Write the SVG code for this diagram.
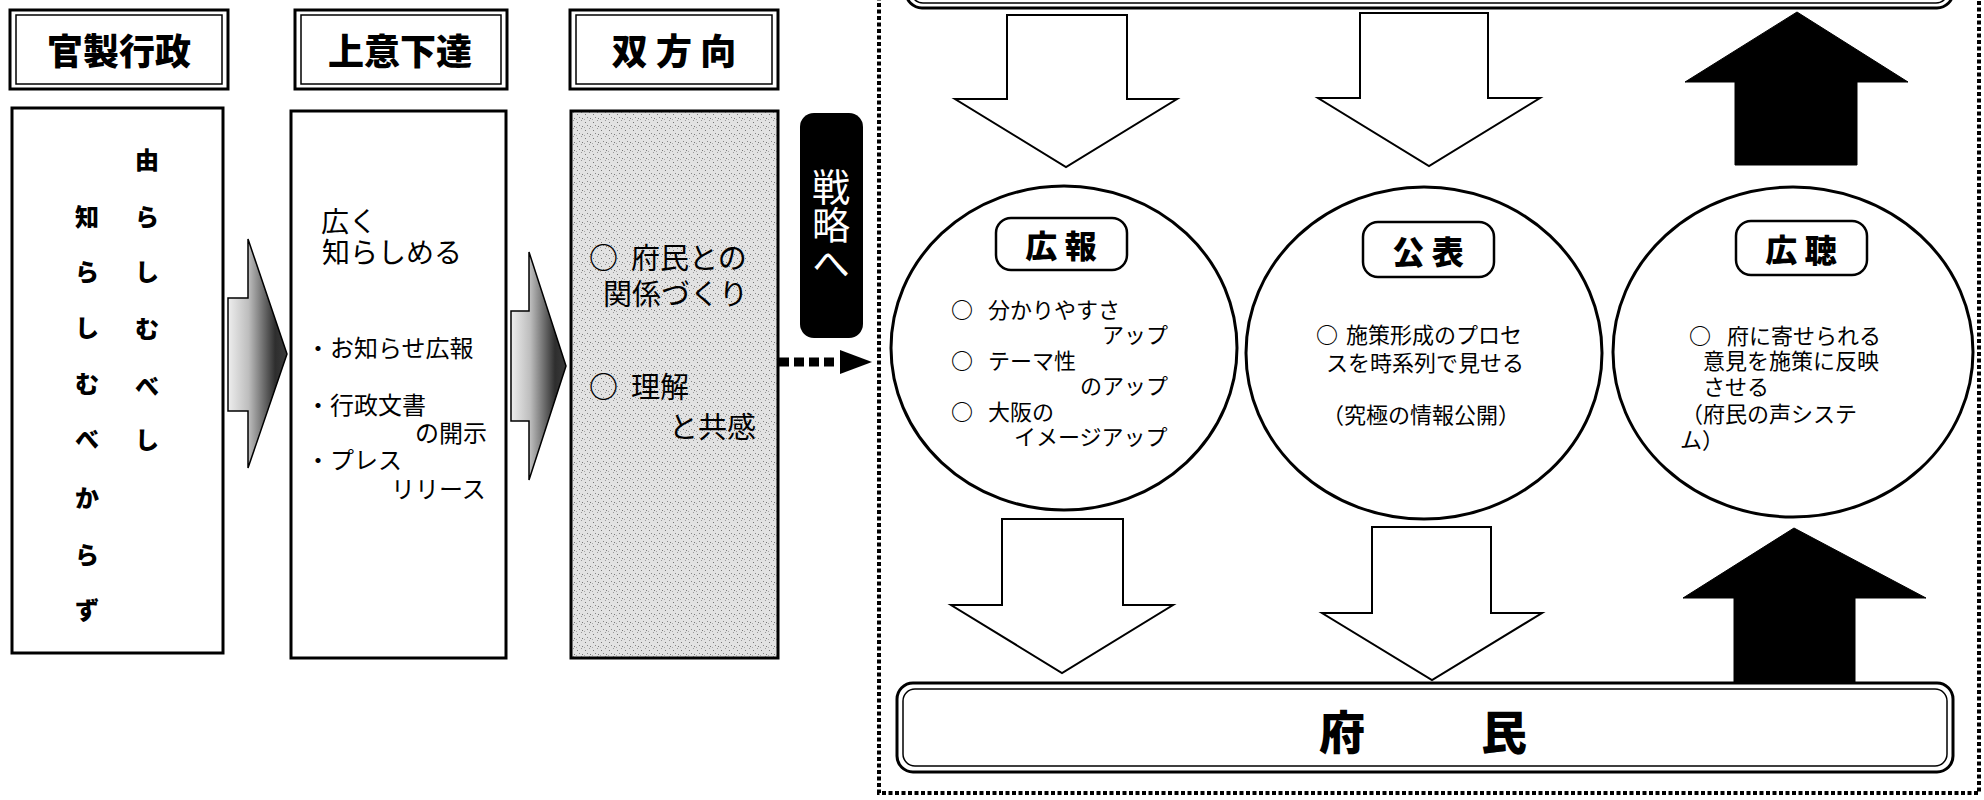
<svg xmlns="http://www.w3.org/2000/svg" width="1984" height="800" viewBox="0 0 1984 800">
<style>
  text { font-family: "Noto Sans CJK JP", "Noto Sans", sans-serif; fill: #000; }
  .box { fill: #fff; stroke: #000; stroke-width: 3; }
  .thin { fill: none; stroke: #000; stroke-width: 1.5; }
  .hdr { font-size: 36px; font-weight: 900; text-anchor: middle; dominant-baseline: central; }
  .vt { font-size: 24px; font-weight: 900; text-anchor: middle; dominant-baseline: central; }
  .t28 { font-size: 28px; dominant-baseline: central; }
  .t29 { font-size: 29px; dominant-baseline: central; }
  .t24 { font-size: 24px; dominant-baseline: central; }
  .t22 { font-size: 22px; dominant-baseline: central; }
  .end { text-anchor: end; }
  .o { font-weight: 700; }
  .lbl { font-size: 32px; font-weight: 900; text-anchor: middle; dominant-baseline: central; }
  .ell { fill: #fff; stroke: #000; stroke-width: 3; }
  .warr { fill: #fff; stroke: #000; stroke-width: 2; stroke-linejoin: miter; }
  .barr { fill: #000; stroke: #000; stroke-width: 1; }
  .garr { fill: url(#grad); stroke: #000; stroke-width: 1.5; }
</style>
<defs>
  <linearGradient id="grad" x1="0" y1="0" x2="1" y2="0">
    <stop offset="0" stop-color="#eeeeee"/>
    <stop offset="0.35" stop-color="#bdbdbd"/>
    <stop offset="0.8" stop-color="#2e2e2e"/>
    <stop offset="1" stop-color="#3a3a3a"/>
  </linearGradient>
  <pattern id="stip" width="8" height="8" patternUnits="userSpaceOnUse">
    <rect width="8" height="8" fill="#e2e2e2"/>
    <rect x="1" y="2" width="1" height="1" fill="#777"/>
    <rect x="5" y="0" width="1" height="1" fill="#999"/>
    <rect x="3" y="5" width="1" height="1" fill="#888"/>
    <rect x="6" y="6" width="1" height="1" fill="#777"/>
    <rect x="0" y="7" width="1" height="1" fill="#aaa"/>
  </pattern>
</defs>
<rect width="1984" height="800" fill="#fff"/>

<!-- Header boxes -->
<g id="hdr-kansei">
  <rect class="box" x="10" y="10" width="218" height="79"/>
  <rect class="thin" x="16" y="15" width="206" height="69"/>
  <text class="hdr" x="119" y="49">官製行政</text>
</g>
<g id="hdr-joui">
  <rect class="box" x="295" y="10" width="212" height="79"/>
  <rect class="thin" x="301" y="15" width="200" height="69"/>
  <text class="hdr" x="400" y="49">上意下達</text>
</g>
<g id="hdr-sohoko">
  <rect class="box" x="570" y="10" width="208" height="79"/>
  <rect class="thin" x="576" y="15" width="196" height="69"/>
  <text class="hdr" x="674" y="49">双 方 向</text>
</g>

<!-- Content boxes -->
<g id="box-kansei">
  <rect class="box" x="12" y="108" width="211" height="545"/>
  <text class="vt"><tspan x="147" y="158">由</tspan><tspan x="147" y="215">ら</tspan><tspan x="147" y="270">し</tspan><tspan x="147" y="327">む</tspan><tspan x="147" y="384">べ</tspan><tspan x="147" y="438">し</tspan></text>
  <text class="vt"><tspan x="87" y="215">知</tspan><tspan x="87" y="270">ら</tspan><tspan x="87" y="326">し</tspan><tspan x="87" y="382">む</tspan><tspan x="87" y="437">べ</tspan><tspan x="87" y="496">か</tspan><tspan x="87" y="553">ら</tspan><tspan x="87" y="608">ず</tspan></text>
</g>
<g id="box-joui">
  <rect class="box" x="291" y="111" width="215" height="547"/>
  <text class="t28"><tspan x="321" y="220">広く</tspan><tspan x="322" y="251">知らしめる</tspan></text>
  <text class="t24" x="306" y="346">・お知らせ広報</text>
  <text class="t24"><tspan x="306" y="403">・行政文書</tspan><tspan x="415" y="431">の開示</tspan></text>
  <text class="t24"><tspan x="306" y="458">・プレス</tspan><tspan x="391" y="487">リリース</tspan></text>
</g>
<g id="box-sohoko">
  <rect x="571" y="111" width="207" height="547" fill="url(#stip)" stroke="#000" stroke-width="3"/>
  <text class="t29"><tspan class="o" x="589" y="256">○ </tspan><tspan x="631" y="256">府民との</tspan><tspan x="603" y="292">関係づくり</tspan></text>
  <text class="t29"><tspan class="o" x="589" y="385">○ </tspan><tspan x="631" y="385">理解</tspan><tspan x="669" y="425">と共感</tspan></text>
</g>
<g id="senryaku">
  <rect x="800" y="113" width="63" height="225" rx="14" fill="#000"/>
  <text x="831" y="168" writing-mode="vertical-rl" style="font-size:38px;fill:#fff">戦略へ</text>
</g>

<!-- Dotted frame -->
<g id="frame">
  <path d="M879,-10 L879,793 L1979,793 L1979,-10" fill="none" stroke="#000" stroke-width="4" stroke-dasharray="4 2.5"/>
</g>

<!-- Top banner (cut off) -->
<g id="banner-top">
  <rect x="906" y="-60" width="1047" height="68" rx="16" fill="#fff" stroke="#000" stroke-width="3"/>
  <rect x="911" y="-55" width="1037" height="58" rx="12" class="thin"/>
</g>

<!-- Ellipses -->
<g id="node-koho">
  <ellipse class="ell" cx="1064" cy="348" rx="173" ry="162"/>
  <rect x="996" y="218" width="131" height="52" rx="15" fill="#fff" stroke="#000" stroke-width="2.5"/>
  <text class="lbl" x="1061" y="244">広 報</text>
  <text class="t22"><tspan class="o" x="951" y="308">○ </tspan><tspan x="988" y="308">分かりやすさ</tspan><tspan x="1102" y="333">アップ</tspan></text>
  <text class="t22"><tspan class="o" x="951" y="359">○ </tspan><tspan x="988" y="359">テーマ性</tspan><tspan x="1080" y="384">のアップ</tspan></text>
  <text class="t22"><tspan class="o" x="951" y="410">○ </tspan><tspan x="988" y="410">大阪の</tspan><tspan x="1014" y="435">イメージアップ</tspan></text>
</g>
<g id="node-kohyo">
  <ellipse class="ell" cx="1424" cy="353" rx="178" ry="166"/>
  <rect x="1363" y="222" width="131" height="55" rx="15" fill="#fff" stroke="#000" stroke-width="2.5"/>
  <text class="lbl" x="1428" y="250">公 表</text>
  <text class="t22"><tspan class="o" x="1316" y="333">○ </tspan><tspan x="1346" y="333">施策形成のプロセ</tspan><tspan x="1326" y="361">スを時系列で見せる</tspan></text>
  <text class="t22" x="1322" y="413">（究極の情報公開）</text>
</g>
<g id="node-kocho">
  <ellipse class="ell" cx="1793" cy="352" rx="180" ry="165"/>
  <rect x="1736" y="221" width="131" height="54" rx="15" fill="#fff" stroke="#000" stroke-width="2.5"/>
  <text class="lbl" x="1801" y="248">広 聴</text>
  <text class="t22"><tspan class="o" x="1689" y="334">○ </tspan><tspan x="1727" y="334">府に寄せられる</tspan><tspan x="1703" y="359">意見を施策に反映</tspan><tspan x="1703" y="385">させる</tspan><tspan x="1681" y="412">（府民の声システ</tspan><tspan x="1680" y="438">ム）</tspan></text>
</g>

<!-- Fumin bar -->
<g id="node-fumin">
  <rect x="897" y="683" width="1056" height="89" rx="16" fill="#fff" stroke="#000" stroke-width="3"/>
  <rect x="903" y="689" width="1044" height="77" rx="12" class="thin"/>
  <text x="1319" y="729" style="font-size:46px;font-weight:900;dominant-baseline:central;letter-spacing:8px">府　　民</text>
</g>

<!-- Connectors -->
<g id="connectors">
  <polygon class="garr" points="228,298 248,298 248,239 287,354 248,468 248,411 228,411"/>
  <polygon class="garr" points="511,311 529,311 529,252 566,366 529,480 529,421 511,421"/>
  <line x1="779" y1="362" x2="838" y2="362" stroke="#000" stroke-width="9" stroke-dasharray="10 5"/>
  <polygon points="840,350 872,362 840,374" fill="#000"/>
  <polygon class="warr" points="1007,15 1127,15 1127,99 1177,99 1066,167 955,99 1007,99"/>
  <polygon class="warr" points="1360,13 1488,13 1488,98 1540,98 1429,166 1318,98 1360,98"/>
  <polygon class="barr" points="1797,12 1908,82 1857,82 1857,165 1735,165 1735,82 1685,82"/>
  <polygon class="warr" points="1002,519 1123,519 1123,605 1173,605 1062,673 951,605 1002,605"/>
  <polygon class="warr" points="1372,527 1491,527 1491,613 1542,613 1432,680 1322,613 1372,613"/>
  <polygon class="barr" points="1794,528 1926,598 1855,598 1855,682 1734,682 1734,598 1683,598"/>
</g>
</svg>
